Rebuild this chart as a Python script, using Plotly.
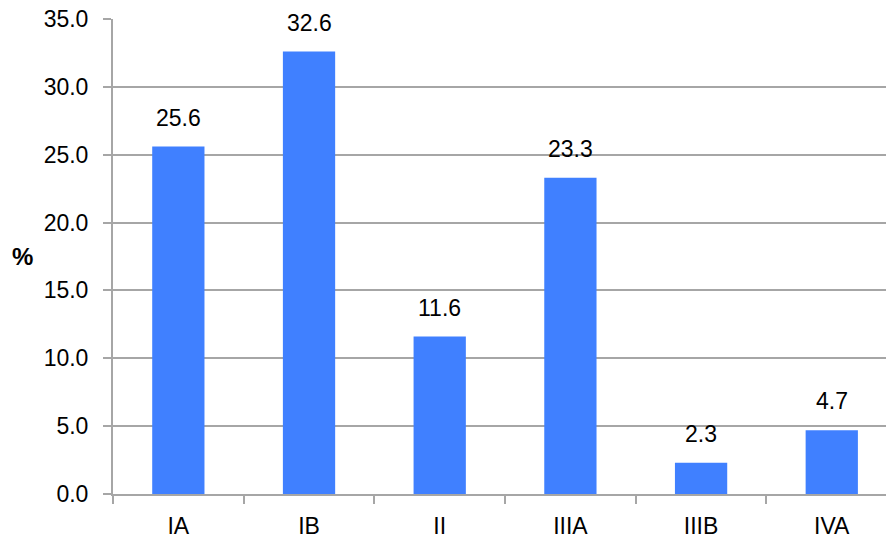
import plotly.graph_objects as go

categories = ["IA", "IB", "II", "IIIA", "IIIB", "IVA"]
values = [25.6, 32.6, 11.6, 23.3, 2.3, 4.7]
y_ticks = [0, 5, 10, 15, 20, 25, 30, 35]
y_tick_labels = ["0.0", "5.0", "10.0", "15.0", "20.0", "25.0", "30.0", "35.0"]

FONT = "Liberation Sans Narrow, Arial Narrow, Liberation Sans, Arial, sans-serif"
GRID = "#A6A6A6"

fig = go.Figure()
fig.add_trace(go.Bar(
    x=categories, y=values, width=0.4,
    marker=dict(color="#4080FF", line=dict(width=0)),
    hoverinfo="skip",
))

for c, v in zip(categories, values):
    fig.add_annotation(x=c, y=v, text=f"{v:.1f}", showarrow=False,
                       yanchor="bottom", yshift=14,
                       font=dict(family=FONT, size=23, color="#000"))

fig.add_annotation(text="<b>%</b>", xref="paper", yref="paper", x=-0.117, y=0.5,
                   xanchor="center", yanchor="middle", showarrow=False,
                   font=dict(family=FONT, size=24, color="#000"))

fig.update_layout(
    width=886, height=542,
    margin=dict(l=113, r=0, t=19, b=48),
    plot_bgcolor="white", paper_bgcolor="white",
    showlegend=False,
    bargap=0.6,
    xaxis=dict(
        type="category", range=[-0.5, 5.415],
        tickson="boundaries", ticks="outside", ticklen=8, tickcolor=GRID, tickwidth=2,
        showline=True, linecolor=GRID, linewidth=2,
        showgrid=False,
        tickfont=dict(family=FONT, size=23, color="#000"),
        ticklabelstandoff=10,
        automargin=False,
    ),
    yaxis=dict(
        range=[0, 35], tickvals=y_ticks, ticktext=y_tick_labels,
        ticks="outside", ticklen=8, tickcolor=GRID, tickwidth=2,
        showline=True, linecolor=GRID, linewidth=2,
        showgrid=True, gridcolor=GRID, gridwidth=2,
        zeroline=False,
        tickfont=dict(family=FONT, size=23, color="#000"),
        ticklabelstandoff=10,
        automargin=False,
    ),
)

fig.write_html("out.html")
